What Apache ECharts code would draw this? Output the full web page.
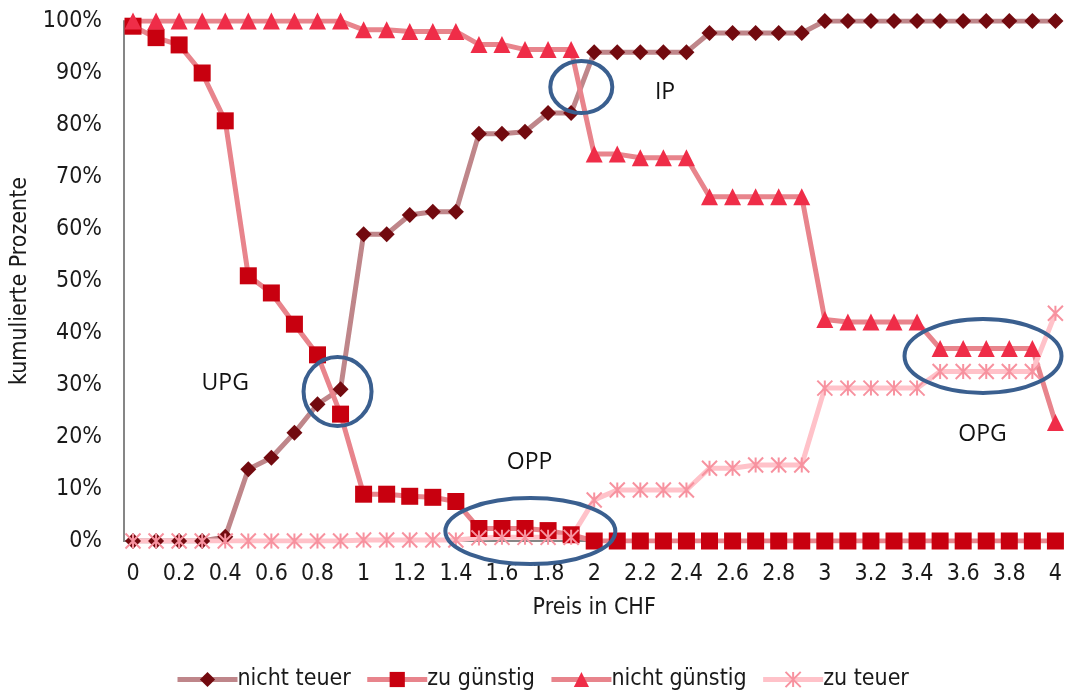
<!DOCTYPE html>
<html>
<head>
<meta charset="utf-8">
<script src="https://cdn.jsdelivr.net/npm/echarts@6/dist/echarts.min.js"></script>
<style>
html,body{margin:0;padding:0;background:#fff;}
#chart{width:1065px;height:700px;}
</style>
</head>
<body>
<div id="chart"></div>
<script>
var prices = ['0','0.1','0.2','0.3','0.4','0.5','0.6','0.7','0.8','0.9','1','1.1','1.2','1.3','1.4','1.5','1.6','1.7','1.8','1.9','2','2.1','2.2','2.3','2.4','2.5','2.6','2.7','2.8','2.9','3','3.1','3.2','3.3','3.4','3.5','3.6','3.7','3.8','3.9','4'];

var nichtTeuer = [0,0,0,0,0.8,13.8,16,20.8,26.3,29.2,59,59,62.7,63.3,63.3,78.3,78.3,78.7,82.3,82.3,94,94,94,94,94,97.7,97.7,97.7,97.7,97.7,100,100,100,100,100,100,100,100,100,100,100];
var zuGuenstig = [99,96.8,95.4,90,80.8,51,47.7,41.7,35.8,24.4,9,9,8.6,8.4,7.6,2.4,2.4,2.4,2,1.2,0,0,0,0,0,0,0,0,0,0,0,0,0,0,0,0,0,0,0,0,0];
var nichtGuenstig = [100,100,100,100,100,100,100,100,100,100,98.3,98.3,98,98,98,95.5,95.5,94.5,94.5,94.5,74.4,74.4,73.7,73.7,73.7,66.2,66.2,66.2,66.2,66.2,42.6,42.1,42.1,42.1,42.1,37,37,37,37,37,22.8];
var zuTeuer = [0,0,0,0,0,0,0,0,0,0,0.2,0.2,0.2,0.2,0.2,0.6,0.7,0.7,0.7,0.7,7.9,9.8,9.8,9.8,9.8,14,14,14.6,14.6,14.6,29.4,29.4,29.4,29.4,29.4,32.6,32.6,32.6,32.6,32.6,43.8];

// annotations: [price, percent]
var ellipses = [
  {price:0.887, pct:28.75, rx:34, ry:34.5},
  {price:1.944, pct:87.3, rx:31, ry:26},
  {price:1.723, pct:1.9, rx:85, ry:33},
  {price:3.686, pct:35.6, rx:78.5, ry:37}
];
var labels = [
  {text:'UPG', price:0.40, pct:30.3},
  {text:'IP', price:2.307, pct:86.3},
  {text:'OPP', price:1.72, pct:15.1},
  {text:'OPG', price:3.684, pct:20.5}
];

var FONT = '"Liberation Sans Narrow", "DejaVu Sans Condensed", sans-serif';
var TXT = '#1a1a1a';

var chart = echarts.init(document.getElementById('chart'));

function asterisk(){ return 'path://M0,-10L0,10M-10,-10L10,10M-10,10L10,-10'; }

var option = {
  animation:false,
  backgroundColor:'#fff',
  grid:{left:133, right:8, top:21, bottom:159, containLabel:false},
  legend:{
    bottom:4, left:170,
    itemWidth:60, itemHeight:19, itemGap:14,
    lineStyle:{width:5},
    textStyle:{fontFamily:FONT, fontSize:23, color:TXT, padding:[0,0,0,-5]},
    data:['nicht teuer','zu günstig','nicht günstig','zu teuer']
  },
  xAxis:{
    type:'category', data:prices, boundaryGap:false,
    name:'Preis in CHF', nameLocation:'middle', nameGap:56,
    nameTextStyle:{fontFamily:FONT, fontSize:23, color:TXT},
    axisLine:{show:true, lineStyle:{color:'#868686', width:2}},
    axisTick:{show:false},
    axisLabel:{interval:1, fontFamily:FONT, fontSize:23, color:TXT, margin:22,
      formatter:function(v){return v;}},
    splitLine:{show:false}
  },
  yAxis:{
    type:'value', min:0, max:100, interval:10, offset:9,
    name:'kumulierte Prozente', nameLocation:'middle', nameGap:92, nameRotate:90,
    nameTextStyle:{fontFamily:FONT, fontSize:23, color:TXT},
    axisLine:{show:true, lineStyle:{color:'#868686', width:2}},
    axisTick:{show:false},
    axisLabel:{fontFamily:FONT, fontSize:23, color:TXT, margin:22, formatter:'{value}%'},
    splitLine:{show:false}
  },
  series:[
    {name:'nicht teuer', type:'line', data:nichtTeuer, symbol:'diamond', symbolSize:16,
     showAllSymbol:true,
     lineStyle:{color:'#bf868a', width:5}, itemStyle:{color:'#720a0f'}},
    {name:'zu günstig', type:'line', data:zuGuenstig, symbol:'rect', symbolSize:17,
     showAllSymbol:true,
     lineStyle:{color:'#e8848c', width:5}, itemStyle:{color:'#c8000f'}},
    {name:'nicht günstig', type:'line', data:nichtGuenstig, symbol:'triangle', symbolSize:17,
     showAllSymbol:true,
     lineStyle:{color:'#e8848c', width:5}, itemStyle:{color:'#ef2d48'}},
    {name:'zu teuer', type:'line', data:zuTeuer, symbol:asterisk(), symbolSize:15,
     showAllSymbol:true,
     lineStyle:{color:'#ffc2c9', width:5}, itemStyle:{color:'#f7929f', borderColor:'#f7929f', borderWidth:2}}
  ]
};
chart.setOption(option);

function toPx(price, pct){
  var a = chart.convertToPixel({gridIndex:0}, [0, 0]);
  var b = chart.convertToPixel({gridIndex:0}, [prices.length-1, 100]);
  var maxP = parseFloat(prices[prices.length-1]);
  return [a[0] + (b[0]-a[0]) * price / maxP, a[1] + (b[1]-a[1]) * pct / 100];
}

var g = [];
var origin = toPx(0, 0);
g.push({type:'line', shape:{x1:origin[0]-10, y1:origin[1], x2:origin[0], y2:origin[1]}, z:1,
  style:{stroke:'#868686', lineWidth:2}});
ellipses.forEach(function(e){
  var p = toPx(e.price, e.pct);
  g.push({type:'ellipse', shape:{cx:p[0], cy:p[1], rx:e.rx, ry:e.ry}, z:100,
    style:{fill:'none', stroke:'#3a5f8f', lineWidth:4}});
});
labels.forEach(function(l){
  var p = toPx(l.price, l.pct);
  g.push({type:'text', x:p[0], y:p[1], z:100,
    style:{text:l.text, fill:'#111', fontFamily:'"Open Sans", sans-serif', fontSize:23,
      align:'center', verticalAlign:'middle'}});
});
chart.setOption({graphic:g});
</script>
</body>
</html>
